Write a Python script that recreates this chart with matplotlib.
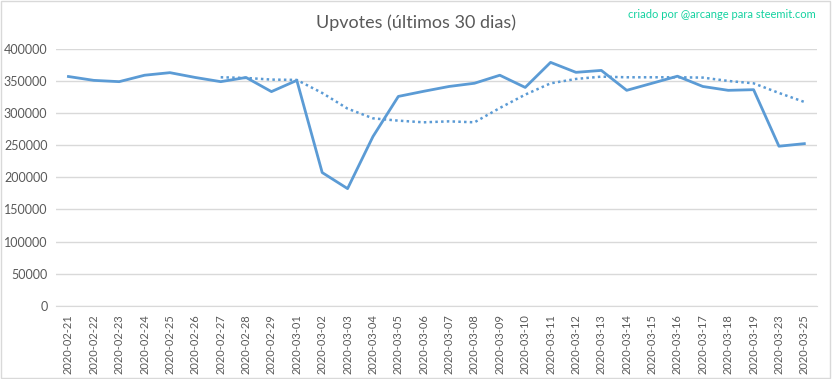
import matplotlib
matplotlib.use("Agg")
import matplotlib.pyplot as plt
from matplotlib.patches import Rectangle

datas = ['2020-02-21', '2020-02-22', '2020-02-23', '2020-02-24', '2020-02-25',
         '2020-02-26', '2020-02-27', '2020-02-28', '2020-02-29', '2020-03-01',
         '2020-03-02', '2020-03-03', '2020-03-04', '2020-03-05', '2020-03-06',
         '2020-03-07', '2020-03-08', '2020-03-09', '2020-03-10', '2020-03-11',
         '2020-03-12', '2020-03-13', '2020-03-14', '2020-03-15', '2020-03-16',
         '2020-03-17', '2020-03-18', '2020-03-19', '2020-03-23', '2020-03-25']

upvotes = [357000, 351000, 349000, 359000, 363000, 355500, 349000, 355500, 333500, 351000,
           207500, 182500, 263500, 326000, 334000, 341500, 346500, 359000, 340000, 379000,
           363500, 366500, 335500, 346500, 357500, 341500, 335500, 336500, 248500, 252500]

# media movel, so a partir de 2020-02-27
media = [None] * 6 + [355800, 354800, 352200, 351700,
                      331400, 307000, 291900, 288300, 285700, 287200, 285700, 308000,
                      328800, 346400, 353200, 356800, 355800, 355800, 355800, 355300,
                      350100, 346400, 331400, 317400]

azul = '#5b9bd5'
cinza = '#595959'

fig = plt.figure(figsize=(8.32, 3.79), dpi=100)
ax = fig.add_axes([0.067, 0.193, 0.915, 0.678])

x = list(range(len(datas)))
ax.plot(x, upvotes, color=azul, linewidth=2)
xm = [i for i, v in zip(x, media) if v is not None]
ym = [v for v in media if v is not None]
ax.plot(xm, ym, color=azul, linewidth=1.8, linestyle=(0, (1, 1.3)))

ax.set_xlim(-0.5, len(datas) - 0.5)
ax.set_ylim(0, 400000)
ax.set_yticks(range(0, 400001, 50000))
ax.set_yticklabels([str(v) for v in range(0, 400001, 50000)], fontsize=9, color=cinza,
                   family='Lato')
ax.set_xticks(x)
ax.set_xticklabels(datas, rotation=90, fontsize=8, color=cinza, family='Lato')
ax.tick_params(length=0, pad=6)
ax.grid(axis='y', color='#d9d9d9', linewidth=1)
ax.set_axisbelow(True)
for s in ['top', 'right', 'left']:
    ax.spines[s].set_visible(False)
ax.spines['bottom'].set_color('#d9d9d9')

fig.text(0.5, 0.94, 'Upvotes (últimos 30 dias)', ha='center', va='center',
         fontsize=13, color=cinza, family='Lato')
fig.text(0.98, 0.962, 'criado por @arcange para steemit.com', ha='right', va='center',
         fontsize=8, color='#14d2a0', family='Lato')

fig.patches.append(Rectangle((0.001, 0.002), 0.997, 0.995, transform=fig.transFigure,
                             fill=False, edgecolor='#d9d9d9', linewidth=1))

fig.savefig('out.png', dpi=100)
